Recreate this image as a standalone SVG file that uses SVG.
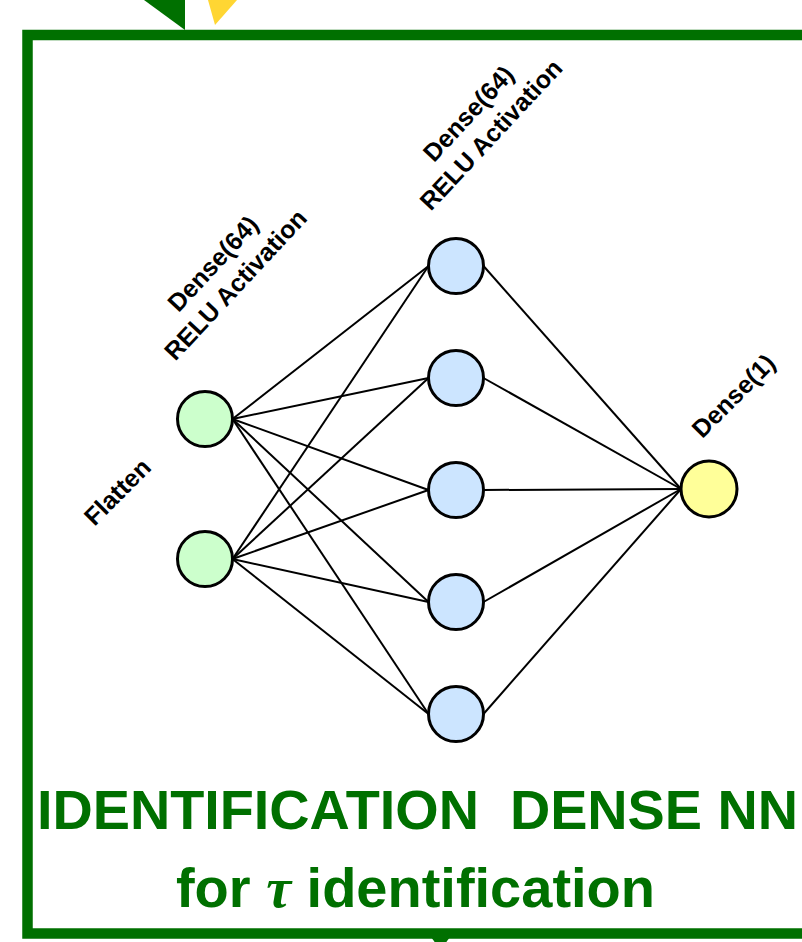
<svg xmlns="http://www.w3.org/2000/svg" width="802" height="942" viewBox="0 0 802 942">
  <style>
    .edge { stroke: #000; stroke-width: 2; fill: none; }
    .node { stroke: #000; stroke-width: 3; }
    .in { fill: #ccffcc; }
    .hid { fill: #cce5ff; }
    .out { fill: #ffff99; }
    .lbl { font-family: "Liberation Sans", Arial, sans-serif; font-weight: bold; font-size: 25px; fill: #000; text-anchor: middle; }
    .title { font-family: "Liberation Sans", Arial, sans-serif; font-weight: bold; fill: #007000; }
  </style>
  <rect width="802" height="942" fill="#fff"/>

  <!-- incoming arrow tips above the frame -->
  <polygon points="144,0 185,0 185,30" fill="#007000"/>
  <polygon points="208,0 237,0 215,25" fill="#ffd633"/>
  <!-- outgoing arrow tip below the frame -->
  <polygon points="431,937 450,937 440.5,950" fill="#007000"/>

  <!-- frame -->
  <rect x="27.5" y="35" width="800" height="898.5" fill="none" stroke="#007000" stroke-width="10.5"/>

  <g id="connectors">
    <!-- input -> hidden -->
    <line class="edge" x1="232.5" y1="419" x2="428.5" y2="266"/>
    <line class="edge" x1="232.5" y1="419" x2="428.5" y2="378"/>
    <line class="edge" x1="232.5" y1="419" x2="428.5" y2="490"/>
    <line class="edge" x1="232.5" y1="419" x2="428.5" y2="602"/>
    <line class="edge" x1="232.5" y1="419" x2="428.5" y2="714"/>
    <line class="edge" x1="232.5" y1="559" x2="428.5" y2="266"/>
    <line class="edge" x1="232.5" y1="559" x2="428.5" y2="378"/>
    <line class="edge" x1="232.5" y1="559" x2="428.5" y2="490"/>
    <line class="edge" x1="232.5" y1="559" x2="428.5" y2="602"/>
    <line class="edge" x1="232.5" y1="559" x2="428.5" y2="714"/>
    <!-- hidden -> output -->
    <line class="edge" x1="483.5" y1="266" x2="681" y2="489"/>
    <line class="edge" x1="483.5" y1="378" x2="681" y2="489"/>
    <line class="edge" x1="483.5" y1="490" x2="681" y2="489"/>
    <line class="edge" x1="483.5" y1="602" x2="681" y2="489"/>
    <line class="edge" x1="483.5" y1="714" x2="681" y2="489"/>
  </g>

  <g id="input-1"><circle class="node in" cx="205" cy="419" r="27.5"/></g>
  <g id="input-2"><circle class="node in" cx="205" cy="559" r="27.5"/></g>

  <g id="hidden-1"><circle class="node hid" cx="456" cy="266" r="27.5"/></g>
  <g id="hidden-2"><circle class="node hid" cx="456" cy="378" r="27.5"/></g>
  <g id="hidden-3"><circle class="node hid" cx="456" cy="490" r="27.5"/></g>
  <g id="hidden-4"><circle class="node hid" cx="456" cy="602" r="27.5"/></g>
  <g id="hidden-5"><circle class="node hid" cx="456" cy="714" r="27.5"/></g>

  <g id="output"><circle class="node out" cx="709" cy="489" r="28"/></g>

  <!-- layer labels -->
  <g id="label-flatten" transform="translate(123.5,498) rotate(-45)">
    <text class="lbl" x="0" y="0">Flatten</text>
  </g>
  <g id="label-dense1" transform="translate(230.5,280) rotate(-47)">
    <text class="lbl" x="0" y="-15.5">Dense(64)</text>
    <text class="lbl" x="0" y="15.5">RELU Activation</text>
  </g>
  <g id="label-dense2" transform="translate(486,130) rotate(-47)">
    <text class="lbl" x="0" y="-15.5">Dense(64)</text>
    <text class="lbl" x="0" y="15.5">RELU Activation</text>
  </g>
  <g id="label-dense3" transform="translate(739.5,402) rotate(-45)">
    <text class="lbl" x="0" y="0" font-size="24">Dense(1)</text>
  </g>

  <g id="caption">
    <text class="title" x="37" y="829" font-size="56" xml:space="preserve" textLength="761" lengthAdjust="spacingAndGlyphs">IDENTIFICATION  DENSE NN</text>
    <text class="title" x="415.5" y="907" font-size="56" text-anchor="middle">for <tspan font-family="'Liberation Serif', 'Times New Roman', serif" font-style="italic">τ</tspan> identification</text>
  </g>
</svg>
